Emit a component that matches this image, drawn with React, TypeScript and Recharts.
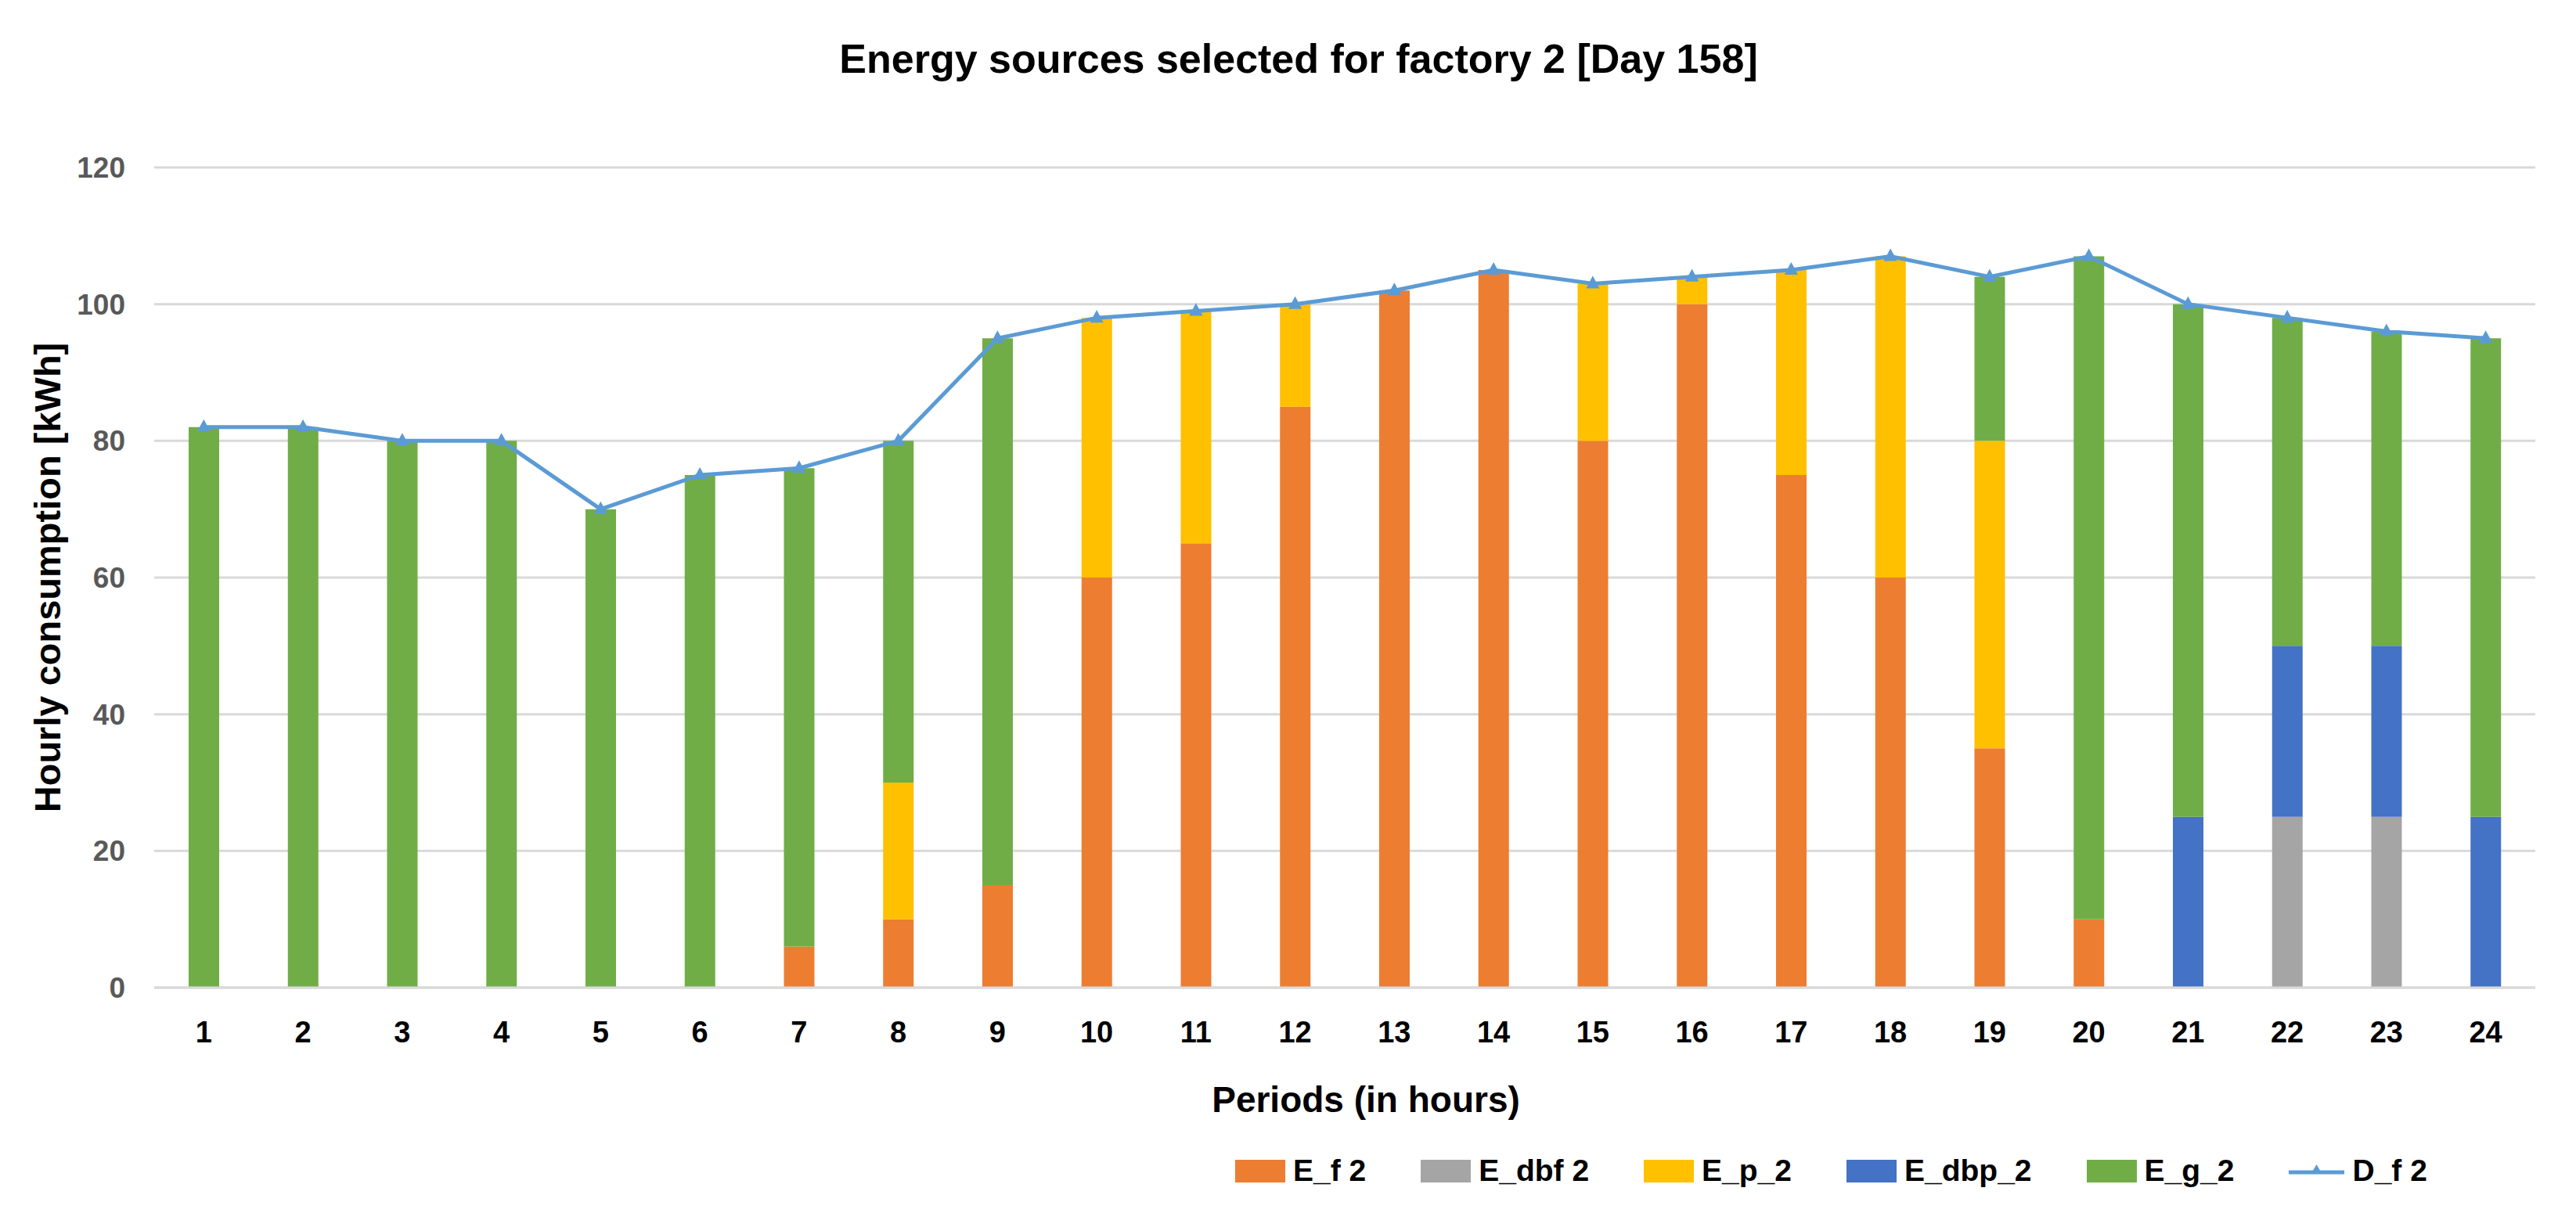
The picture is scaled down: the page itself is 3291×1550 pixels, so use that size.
import React from "react";
import { ComposedChart, Bar, Line, XAxis, YAxis, CartesianGrid, Legend } from "recharts";

// hourly periods of day 158
const periods = ["1", "2", "3", "4", "5", "6", "7", "8", "9", "10", "11", "12", "13", "14", "15", "16", "17", "18", "19", "20", "21", "22", "23", "24"];

// energy per source [kWh]
const eF = [0, 0, 0, 0, 0, 0, 6, 10, 15, 60, 65, 85, 102, 105, 80, 100, 75, 60, 35, 10, 0, 0, 0, 0];
const eDbf = [0, 0, 0, 0, 0, 0, 0, 0, 0, 0, 0, 0, 0, 0, 0, 0, 0, 0, 0, 0, 0, 25, 25, 0];
const eP = [0, 0, 0, 0, 0, 0, 0, 20, 0, 38, 34, 15, 0, 0, 23, 4, 30, 47, 45, 0, 0, 0, 0, 0];
const eDbp = [0, 0, 0, 0, 0, 0, 0, 0, 0, 0, 0, 0, 0, 0, 0, 0, 0, 0, 0, 0, 25, 25, 25, 25];
const eG = [82, 82, 80, 80, 70, 75, 70, 50, 80, 0, 0, 0, 0, 0, 0, 0, 0, 0, 24, 97, 75, 48, 46, 70];
// demand of factory 2
const dF = [82, 82, 80, 80, 70, 75, 76, 80, 95, 98, 99, 100, 102, 105, 103, 104, 105, 107, 104, 107, 100, 98, 96, 95];

const yTicks = [0, 20, 40, 60, 80, 100, 120];

const data = periods.map((p, i) => ({
  period: p,
  eF: eF[i],
  eDbf: eDbf[i],
  eP: eP[i],
  eDbp: eDbp[i],
  eG: eG[i],
  dF: dF[i],
}));

const bars = [
  { key: "eF", name: "E_f 2", color: "#ED7D31" },
  { key: "eDbf", name: "E_dbf 2", color: "#A5A5A5" },
  { key: "eP", name: "E_p_2", color: "#FFC000" },
  { key: "eDbp", name: "E_dbp_2", color: "#4472C4" },
  { key: "eG", name: "E_g_2", color: "#70AD47" },
];
const lineColor = "#5B9BD5";
const order = [...bars.map((b) => b.name), "D_f 2"];

const FONT = "'Liberation Sans', Arial, sans-serif";
const W = 3275;
const H = 1534;

const Marker = (props: any) => {
  const { cx, cy } = props;
  if (cx == null || cy == null) return null;
  return (
    <polygon
      points={`${cx},${cy - 8} ${cx + 7},${cy + 5} ${cx - 7},${cy + 5}`}
      fill={lineColor}
      stroke={lineColor}
      strokeWidth={2}
    />
  );
};

const renderLegend = (props: any) => {
  const items = [...(props.payload || [])].sort(
    (a: any, b: any) => order.indexOf(a.value) - order.indexOf(b.value)
  );
  return (
    <div style={{ display: "flex", alignItems: "center", gap: 70, fontFamily: FONT, fontWeight: 700, fontSize: 39, color: "#000" }}>
      {items.map((it: any) => (
        <div key={it.value} style={{ display: "flex", alignItems: "center", gap: 10 }}>
          {it.type === "line" ? (
            <svg width={71} height={30}>
              <line x1={0} y1={17} x2={71} y2={17} stroke={lineColor} strokeWidth={5} />
              <polygon points="35.5,7 42,18 29,18" fill={lineColor} />
            </svg>
          ) : (
            <div style={{ width: 64, height: 29, background: it.color }} />
          )}
          <span>{it.value}</span>
        </div>
      ))}
    </div>
  );
};

export default function App() {
  return (
    <div style={{ position: "relative", width: W, height: H, background: "#fff" }}>
      <div
        style={{
          position: "absolute",
          left: 1651,
          top: 67,
          transform: "translate(-50%, -50%)",
          fontFamily: FONT,
          fontWeight: 700,
          fontSize: 52,
          whiteSpace: "nowrap",
          color: "#000",
        }}
      >
        Energy sources selected for factory 2 [Day 158]
      </div>
      <ComposedChart
        width={W}
        height={H}
        data={data}
        margin={{ top: 206, right: 44, bottom: 0, left: 0 }}
        barSize={39}
      >
        <CartesianGrid vertical={false} stroke="#D9D9D9" strokeWidth={3} />
        <XAxis
          dataKey="period"
          height={280}
          tickLine={false}
          axisLine={{ stroke: "#D9D9D9", strokeWidth: 3 }}
          tickMargin={37}
          interval={0}
          tick={{ fill: "#000", fontSize: 38, fontWeight: 700, fontFamily: FONT }}
          label={{
            content: () => (
              <text x={1737} y={1397} textAnchor="middle" dominantBaseline="central" fontFamily={FONT} fontWeight={700} fontSize={46} fill="#000">
                Periods (in hours)
              </text>
            ),
          }}
        />
        <YAxis
          width={189}
          domain={[0, 120]}
          ticks={yTicks}
          tickLine={false}
          axisLine={false}
          tickMargin={31}
          tick={{ fill: "#595959", fontSize: 37, fontWeight: 700, fontFamily: FONT }}
          label={{
            content: () => (
              <text x={52} y={730} transform="rotate(-90, 52, 730)" textAnchor="middle" dominantBaseline="central" fontFamily={FONT} fontWeight={700} fontSize={47} fill="#000">
                Hourly consumption [kWh]
              </text>
            ),
          }}
        />
        <Legend
          verticalAlign="middle"
          layout="horizontal"
          content={renderLegend}
          wrapperStyle={{ top: 1466, left: 1570, bottom: "auto", width: 1650, height: 44 }}
        />
        {bars.map((b) => (
          <Bar key={b.key} dataKey={b.key} name={b.name} stackId="s" fill={b.color} isAnimationActive={false} />
        ))}
        <Line
          dataKey="dF"
          name="D_f 2"
          type="linear"
          stroke={lineColor}
          strokeWidth={5}
          dot={<Marker />}
          activeDot={false}
          isAnimationActive={false}
        />
      </ComposedChart>
    </div>
  );
}
